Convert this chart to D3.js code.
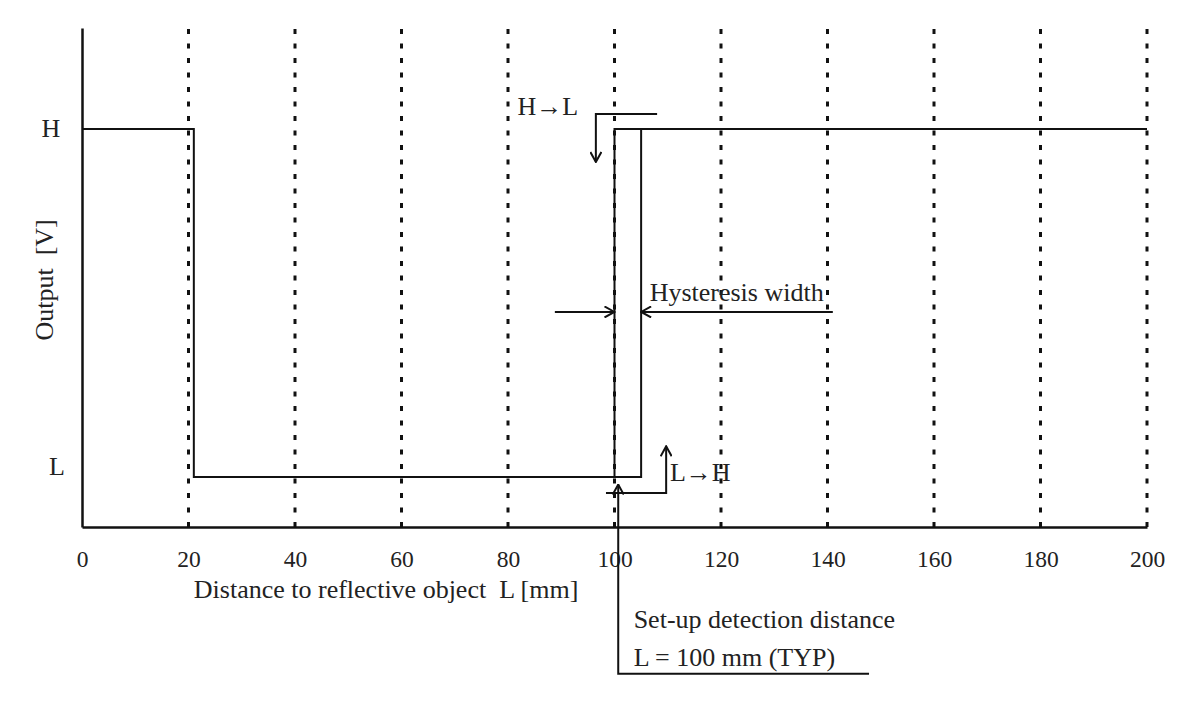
<!DOCTYPE html>
<html>
<head>
<meta charset="utf-8">
<script src="https://cdn.jsdelivr.net/npm/d3@7"></script>
<style>
  body { margin: 0; background: #fff; }
  text { font-family: "Liberation Serif", "Times New Roman", serif; fill: #222; white-space: pre; }
</style>
</head>
<body>
<div id="chart"></div>
<script>
/**
 * DATA
 * */
const xTicks = [0, 20, 40, 60, 80, 100, 120, 140, 160, 180, 200];
const gridX = [20, 40, 60, 80, 100, 120, 140, 160, 180, 200];
const levelNames = ["L", "H"];
const levelValues = { L: 0, H: 1 };

// output while the object moves away (starts near, goes far)
const pathAX = [0, 21, 21, 105, 105];
const pathAY = ["H", "H", "L", "L", "H"];
// output on the far side, switching at the set-up distance
const pathBX = [100, 100, 200];
const pathBY = ["L", "H", "H"];

const setupDistance = 100;
const hysteresisEnd = 105;

/**
 * CONSTANTS AND GLOBALS
 * */
const width = 1200,
  height = 702,
  margin = { top: 28, bottom: 175, left: 82, right: 53 };

const svg = d3.select("#chart")
  .append("svg")
  .attr("width", width)
  .attr("height", height);

const x = d3.scaleLinear()
  .domain([0, 200])
  .range([margin.left, width - margin.right]);

// L sits at 0, H at 1, the axis line a bit under L
const y = d3.scaleLinear()
  .domain([-0.144, 1.29])
  .range([height - margin.bottom, margin.top]);

// arrow head, open V
svg.append("defs").append("marker")
  .attr("id", "arrow")
  .attr("viewBox", "0 -6 12 12")
  .attr("refX", 11)
  .attr("refY", 0)
  .attr("markerUnits", "userSpaceOnUse")
  .attr("markerWidth", 12)
  .attr("markerHeight", 12)
  .attr("orient", "auto")
  .append("path")
  .attr("d", "M1,-5.5L11,0L1,5.5")
  .attr("fill", "none")
  .attr("stroke", "#111")
  .attr("stroke-width", 2);

// dotted grid
svg.append("g")
  .selectAll("line")
  .data(gridX)
  .join("line")
  .attr("x1", d => x(d))
  .attr("x2", d => x(d))
  .attr("y1", y(-0.144))
  .attr("y2", y(1.29))
  .attr("stroke", "#111")
  .attr("stroke-width", 3)
  .attr("stroke-dasharray", "5,9.5");

// axes
const xAxis = svg.append("g")
  .attr("transform", `translate(0,${y(-0.144)})`)
  .call(d3.axisBottom(x).tickValues(xTicks).tickSize(0).tickPadding(23).tickFormat(d3.format("d")));
xAxis.select(".domain").attr("stroke", "#111").attr("stroke-width", 2.5);
xAxis.selectAll("text").attr("font-size", 23.5).attr("font-family", "Liberation Serif, serif").attr("fill", "#222");

const yAxis = svg.append("g")
  .attr("transform", `translate(${x(0)},0)`)
  .call(d3.axisLeft(y).tickValues(levelNames.map(d => levelValues[d]))
    .tickSize(0).tickFormat((d, i) => levelNames[i]));
yAxis.select(".domain").attr("stroke", "#111").attr("stroke-width", 2.5);
yAxis.selectAll("text")
  .attr("font-size", 26)
  .attr("font-family", "Liberation Serif, serif")
  .attr("fill", "#222")
  .attr("text-anchor", "middle")
  .attr("x", (d, i) => i === 0 ? -25 : -31)
  .attr("dy", (d, i) => i === 0 ? "-0.1em" : "0.28em");

// axis titles
svg.append("text")
  .attr("x", x(21))
  .attr("y", 598)
  .attr("font-size", 26)
  .text("Distance to reflective object  L [mm]");

svg.append("text")
  .attr("transform", `translate(53,${y(0.566)}) rotate(-90)`)
  .attr("text-anchor", "middle")
  .attr("font-size", 26)
  .text("Output  [V]");

// output lines
const line = d3.line()
  .x(d => x(d[0]))
  .y(d => y(levelValues[d[1]]));

svg.append("path")
  .datum(pathAX.map((d, i) => [d, pathAY[i]]))
  .attr("d", line)
  .attr("fill", "none")
  .attr("stroke", "#111")
  .attr("stroke-width", 2);

svg.append("path")
  .datum(pathBX.map((d, i) => [d, pathBY[i]]))
  .attr("d", line)
  .attr("fill", "none")
  .attr("stroke", "#111")
  .attr("stroke-width", 2);

// annotations
const arrowLine = d3.line().x(d => x(d[0])).y(d => y(d[1]));

function arrow(pts) {
  svg.append("path")
    .attr("d", arrowLine(pts))
    .attr("fill", "none")
    .attr("stroke", "#111")
    .attr("stroke-width", 2)
    .attr("marker-end", "url(#arrow)");
}

function note(px, py, txt) {
  svg.append("text")
    .attr("x", x(px))
    .attr("y", y(py))
    .attr("font-size", 26)
    .text(txt);
}

// H -> L
arrow([[108, 1.043], [96.5, 1.043], [96.5, 0.905]]);
note(81.8, 1.04, "H\u2192L");

// hysteresis width
arrow([[88.8, 0.474], [setupDistance, 0.474]]);
arrow([[141, 0.474], [hysteresisEnd, 0.474]]);
note(106.6, 0.505, "Hysteresis width");

// L -> H
arrow([[98.4, -0.046], [109.7, -0.046], [109.7, 0.088]]);
note(110.4, -0.012, "L\u2192H");

// set-up detection distance
arrow([[147.8, -0.566], [100.7, -0.566], [100.7, -0.022]]);
note(103.6, -0.434, "Set-up detection distance");
note(103.6, -0.543, "L = 100 mm (TYP)");
</script>
</body>
</html>
